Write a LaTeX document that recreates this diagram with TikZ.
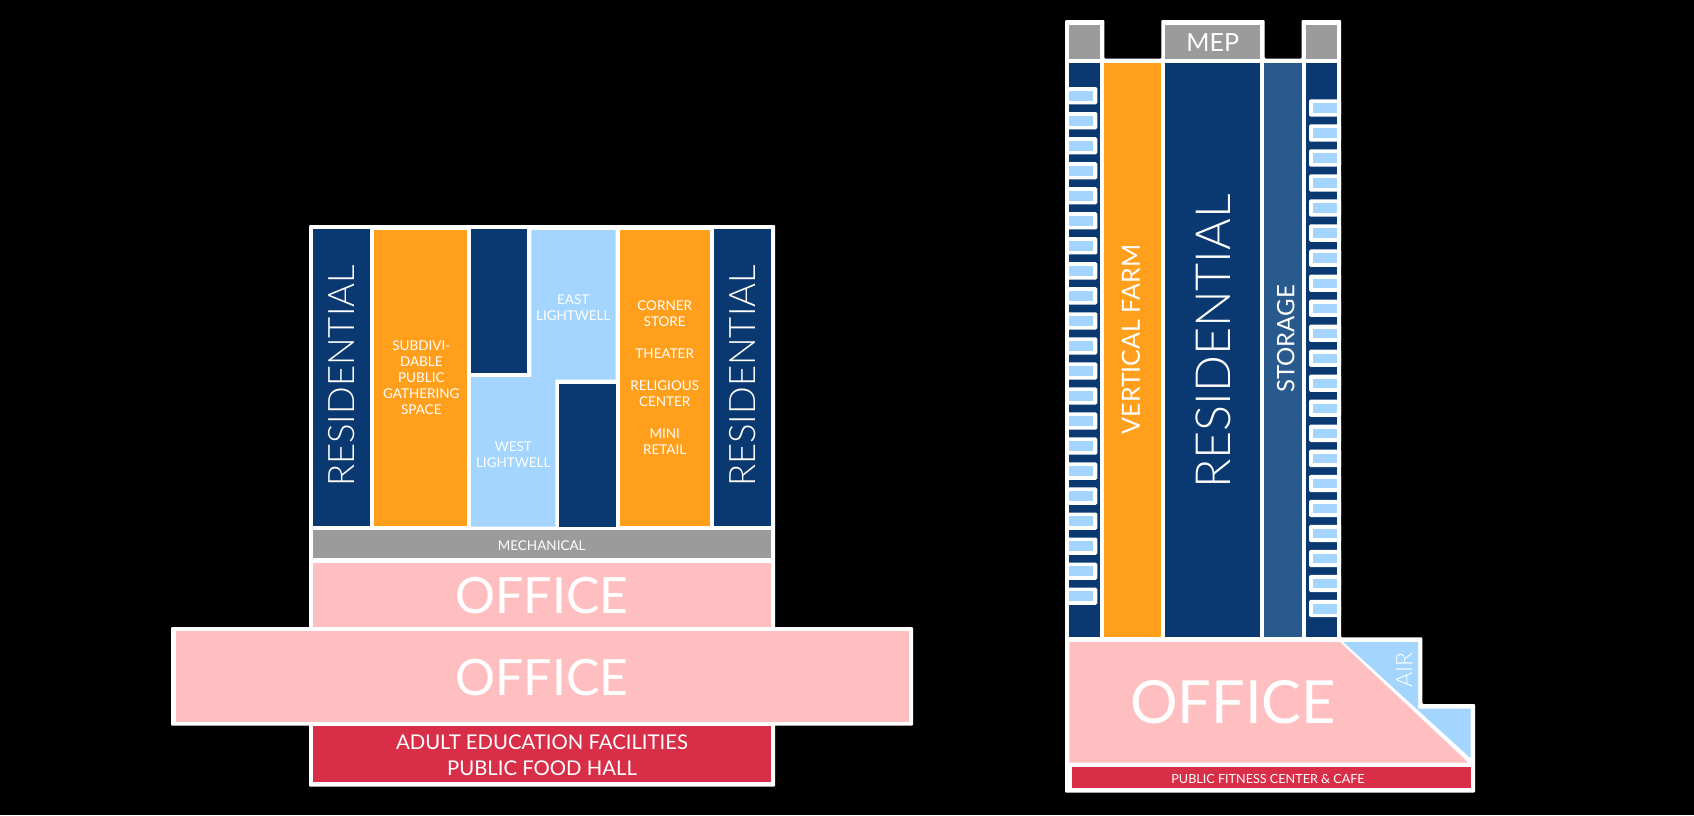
\documentclass[tikz,border=0pt]{standalone}
\usepackage{fontspec}
\setmainfont{Lato}
\newfontfamily\thinfont{Lato Light}
\definecolor{navy}{HTML}{0A3871}
\definecolor{amber}{HTML}{FF9F1C}
\definecolor{sky}{HTML}{A3D5FF}
\definecolor{stone}{HTML}{9B9B9B}
\definecolor{blush}{HTML}{FFBFC1}
\definecolor{crimson}{HTML}{D92E48}
\definecolor{steel}{HTML}{295A8E}
\tikzset{
  lbl/.style={text=white,inner sep=0pt,align=center},
  small/.style={lbl,font=\fontsize{13.5}{16}\selectfont},
  sil/.style={fill=white,rounded corners=1pt},
  winout/.style={fill=white,rounded corners=1.5pt},
}
\begin{document}
\begin{tikzpicture}[x=1pt,y=-1pt]
\useasboundingbox (0,0) rectangle (1694,815);
\fill[black] (0,0) rectangle (1694,815);
% ---------- left building ----------
\fill[sil] (309,225) rectangle (775,786.7);
\fill[sil] (171,627) rectangle (913,725.7);
\fill[navy] (313.3,229.3) rectangle (369.7,526);
\fill[amber] (373.7,229.5) rectangle (467,526);
\fill[navy] (471,229.3) rectangle (527.3,372.7);
\fill[sky] (531.3,230) -- (615.7,230) -- (615.7,379.7) -- (555.3,379.7) -- (555.3,526.7) -- (471,526.7) -- (471,377) -- (531.3,377) -- cycle;
\fill[navy] (559.3,383.7) rectangle (615.7,526.7);
\fill[amber] (619.7,229.5) rectangle (710,526);
\fill[navy] (714,229.3) rectangle (770.7,526);
\fill[stone] (313.3,530.3) rectangle (770.7,558.3);
\fill[blush] (313.3,562.7) rectangle (770.7,627.3);
\fill[blush] (175.5,631) rectangle (909,721.7);
\fill[crimson] (313.3,725.7) rectangle (770.7,782.3);
\node[lbl,rotate=90,font=\thinfont\fontsize{36.5}{36.5}\selectfont] (resL) at (341.7,376) {RESIDENTIAL};
\node[lbl,rotate=90,font=\thinfont\fontsize{36.5}{36.5}\selectfont] (resR) at (742.3,376) {RESIDENTIAL};
\node[small] (gather) at (421.3,378) {SUBDIVI-\\DABLE\\PUBLIC\\GATHERING\\SPACE};
\node[small] (east) at (573.3,307.2) {EAST\\LIGHTWELL};
\node[small] (west) at (513.3,454.9) {WEST\\LIGHTWELL};
\node[small] (retail) at (664.7,377.7) {CORNER\\STORE\\[16pt]THEATER\\[16pt]RELIGIOUS\\CENTER\\[16pt]MINI\\RETAIL};
\node[small] (mech) at (541.7,545.7) {MECHANICAL};
\node[lbl,font=\fontsize{50}{50}\selectfont] (off1) at (542,595.3) {OFFICE};
\node[lbl,font=\fontsize{50}{50}\selectfont] (off2) at (542,677.3) {OFFICE};
\node[lbl,font=\fontsize{20.3}{26.4}\selectfont] (food) at (542,755.2) {ADULT EDUCATION FACILITIES\\PUBLIC FOOD HALL};
% ---------- right building ----------
\fill[sil] (1065,20) -- (1104.3,20) -- (1104.3,58.7) -- (1161.3,58.7) -- (1161.3,20) -- (1264.7,20) -- (1264.7,58.7) -- (1301.7,58.7) -- (1301.7,20) -- (1341,20) -- (1341,637.3) -- (1422.3,637.3) -- (1422.3,704) -- (1475,704) -- (1475,792.7) -- (1065,792.7) -- cycle;
\fill[stone] (1069.3,25) rectangle (1100,58.7);
\fill[stone] (1165,25) rectangle (1260.3,58.7);
\fill[stone] (1306,25) rectangle (1336.7,58.7);
\fill[navy] (1069.3,62.7) rectangle (1100,637.3);
\fill[amber] (1104,62.7) rectangle (1161,637.3);
\fill[navy] (1165.3,62.7) rectangle (1260.3,637.3);
\fill[steel] (1264,62.7) rectangle (1302.3,637.3);
\fill[navy] (1306,62.7) rectangle (1336.7,637.3);
\foreach \k in {0,...,20}{
  \pgfmathsetmacro{\ya}{87+25.03*\k}
  \pgfmathsetmacro{\yb}{99.3+25.03*\k}
  \fill[winout] (1065,\ya) rectangle (1097.3,\ya+17.3);
  \fill[sky] (1069.3,\ya+3.7) rectangle (1093.3,\ya+13.7);
  \fill[winout] (1309,\yb) rectangle (1341,\yb+17.3);
  \fill[sky] (1312.7,\yb+4) rectangle (1336.7,\yb+13.6);
}
\fill[blush] (1069.3,642) -- (1340,642) -- (1468.3,762.7) -- (1069.3,762.7) -- cycle;
\fill[sky] (1343.3,642) -- (1418,642) -- (1418,708.7) -- (1470.7,708.7) -- (1470.7,758.3) -- cycle;
\fill[crimson] (1071.7,767.3) rectangle (1470.7,787.7);
\node[lbl,font=\fontsize{25}{25}\selectfont] (mep) at (1212.7,43) {MEP};
\node[lbl,rotate=90,font=\fontsize{25}{25}\selectfont] (farm) at (1131,339.5) {VERTICAL FARM};
\node[lbl,rotate=90,font=\thinfont\fontsize{48.5}{48.5}\selectfont] (res) at (1213,341.5) {RESIDENTIAL};
\node[lbl,rotate=90,font=\fontsize{24}{24}\selectfont] (store) at (1285.7,339) {STORAGE};
\node[lbl,font=\fontsize{59.5}{59.5}\selectfont] (off3) at (1233,702.5) {OFFICE};
\node[lbl,rotate=90,font=\thinfont\fontsize{23}{23}\selectfont] (air) at (1404.3,670) {AIR};
\node[lbl,font=\fontsize{12.6}{12.6}\selectfont] (fit) at (1268,779) {PUBLIC FITNESS CENTER \& CAFE};
\end{tikzpicture}
\end{document}
